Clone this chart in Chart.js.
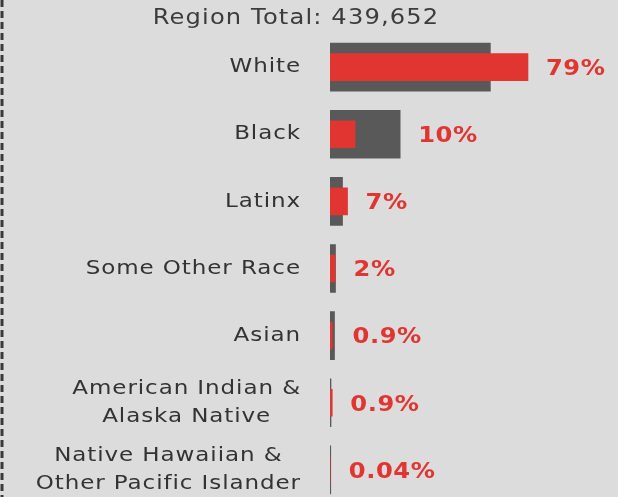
<!DOCTYPE html>
<html>
<head>
<meta charset="utf-8">
<script src="https://cdn.jsdelivr.net/npm/chart.js@4.4.0/dist/chart.umd.min.js"></script>
<style>
  html, body { margin: 0; padding: 0; background: #dcdcdc; overflow: hidden; }
  #wrap { width: 618px; height: 520px; position: relative; }
</style>
</head>
<body>
<div id="wrap"><canvas id="grafico"></canvas></div>
<script>
// dados do grafico
var categorias = ['White', 'Black', 'Latinx', 'Some Other Race', 'Asian',
  ['American Indian &', 'Alaska Native'], ['Native Hawaiian &', 'Other Pacific Islander']];
var pctRegiao = [79, 10, 7, 2, 0.9, 0.9, 0.04];
var pctComparacao = [64, 28, 5, 2.2, 1.8, 0.4, 0.3];
var rotulosPct = ['79%', '10%', '7%', '2%', '0.9%', '0.9%', '0.04%'];
var titulo = 'Region Total: 439,652';

var fonte = '"DejaVu Sans", sans-serif';

// escreve texto esticado na horizontal (a fonte original é bem larga)
function textoLargo(ctx, txt, x, y, sx) {
  ctx.save();
  ctx.translate(x, y);
  ctx.scale(sx, 1);
  ctx.fillText(txt, 0, 0);
  ctx.restore();
}

// plugin pra desenhar titulo, nomes, porcentagens e a linha tracejada
var pluginTextos = {
  id: 'textos',
  afterDatasetsDraw: function (chart) {
    var ctx = chart.ctx;
    var x = chart.scales.x;
    var y = chart.scales.y;
    ctx.save();

    // linha tracejada da esquerda
    ctx.strokeStyle = '#3a3a3a';
    ctx.lineWidth = 3;
    ctx.setLineDash([7, 4]);
    ctx.beginPath();
    ctx.moveTo(2, 0);
    ctx.lineTo(2, chart.height);
    ctx.stroke();
    ctx.setLineDash([]);

    // titulo
    ctx.fillStyle = '#3c3c3c';
    ctx.font = '21px ' + fonte;
    ctx.letterSpacing = '1px';
    ctx.textAlign = 'center';
    ctx.textBaseline = 'middle';
    textoLargo(ctx, titulo, 296, 19, 1.15);

    // nomes das categorias
    var sx = 1.15;
    ctx.font = '20px ' + fonte;
    ctx.letterSpacing = '0.8px';
    ctx.fillStyle = '#333333';
    for (var i = 0; i < categorias.length; i++) {
      var linhas = Array.isArray(categorias[i]) ? categorias[i] : [categorias[i]];
      var larg = 0;
      for (var j = 0; j < linhas.length; j++) {
        larg = Math.max(larg, ctx.measureText(linhas[j]).width * sx);
      }
      var cx = 301 - larg / 2;
      var cy = y.getPixelForValue(i);
      var alturaLinha = 28;
      var y0 = cy - (linhas.length - 1) * alturaLinha / 2;
      for (var j = 0; j < linhas.length; j++) {
        textoLargo(ctx, linhas[j], cx, y0 + j * alturaLinha, sx);
      }
    }

    // porcentagens
    ctx.font = 'bold 22px ' + fonte;
    ctx.letterSpacing = '0.5px';
    ctx.fillStyle = '#e03530';
    ctx.textAlign = 'left';
    for (var i = 0; i < pctRegiao.length; i++) {
      var fim = x.getPixelForValue(Math.max(pctRegiao[i], pctComparacao[i]));
      textoLargo(ctx, rotulosPct[i], fim + 18, y.getPixelForValue(i) + 2, 1.1);
    }
    ctx.restore();
  }
};

const grafico = document.getElementById('grafico');

new Chart(grafico, {
  type: 'bar',
  data: {
    labels: categorias,
    datasets: [{
      label: 'Region',
      data: pctRegiao,
      backgroundColor: '#e03530',
      barThickness: 27,
      grouped: false,
      order: 0
    }, {
      label: 'Comparison',
      data: pctComparacao,
      backgroundColor: '#595959',
      barThickness: 48,
      grouped: false,
      order: 1
    }]
  },
  options: {
    indexAxis: 'y',
    responsive: true,
    maintainAspectRatio: false,
    animation: false,
    layout: {
      padding: { left: 330, right: 37.4, top: 33.5, bottom: 16.5 }
    },
    plugins: {
      legend: { display: false },
      tooltip: { enabled: false }
    },
    scales: {
      x: { display: false, min: 0, max: 100 },
      y: { display: false }
    }
  },
  plugins: [pluginTextos]
});
</script>
</body>
</html>
